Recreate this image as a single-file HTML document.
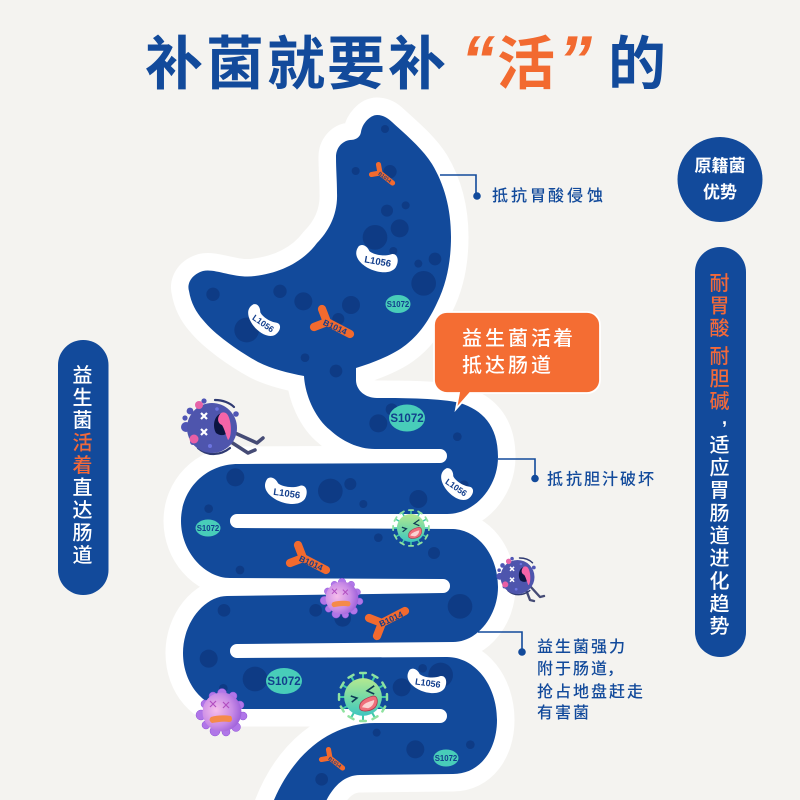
<!DOCTYPE html>
<html lang="zh"><head><meta charset="utf-8"><style>
html,body{margin:0;padding:0;background:#f4f3f0}
svg{display:block}
text{font-family:"Liberation Sans","Noto Sans CJK SC",sans-serif}
.cjk{font-family:"Noto Sans CJK SC",sans-serif}
.lab{font-size:16px;fill:#124a9b;font-weight:500}
.pill{font-size:20px;fill:#fff;font-weight:500;text-anchor:middle}
.sl{font-weight:700;fill:#123e8c;text-anchor:middle}
.bt{font-weight:700;fill:#123e8c;text-anchor:middle}
</style></head><body>
<svg width="800" height="800" viewBox="0 0 800 800" xmlns="http://www.w3.org/2000/svg">
<defs>
<radialGradient id="gp" cx=".35" cy=".45" r=".75"><stop offset="0" stop-color="#f6bdea"/><stop offset=".55" stop-color="#c98be6"/><stop offset="1" stop-color="#8d50d6"/></radialGradient>
<linearGradient id="gg" x1=".5" y1="0" x2=".5" y2="1"><stop offset="0" stop-color="#b5e98f"/><stop offset=".55" stop-color="#70d8a8"/><stop offset="1" stop-color="#3fc6c0"/></linearGradient>
<path id="bean" fill="#fff" d="M-50,-25C-42,-35 -28,-28 -22,-18C-8,-10 18,-12 32,-20C46,-26 55,-8 48,10C38,30 5,30 -15,24C-38,17 -62,0 -50,-25Z"/>
<path id="yy" fill="none" stroke="#f26a2e" stroke-width="8.200" stroke-linecap="round" stroke-linejoin="round" d="M-5,-13L0,0L23,12M-13,5L0,0"/>
<g id="spike"><line x1="0" y1="-17" x2="0" y2="-23" stroke="#3fc9a8" stroke-width="2"/><line x1="-2.800" y1="-23.500" x2="2.800" y2="-23.500" stroke="#8fe2a0" stroke-width="2.400" stroke-linecap="round"/></g>
<g id="green">
<use href="#spike"/><use href="#spike" transform="rotate(30)"/><use href="#spike" transform="rotate(60)"/><use href="#spike" transform="rotate(90)"/><use href="#spike" transform="rotate(120)"/><use href="#spike" transform="rotate(150)"/><use href="#spike" transform="rotate(180)"/><use href="#spike" transform="rotate(210)"/><use href="#spike" transform="rotate(240)"/><use href="#spike" transform="rotate(270)"/><use href="#spike" transform="rotate(300)"/><use href="#spike" transform="rotate(330)"/>
<circle r="18.500" fill="url(#gg)"/>
<path d="M-12,-1L-6,1L-11,5" fill="none" stroke="#0e3a55" stroke-width="1.600"/>
<path d="M11,-11L4,-6L11,-3" fill="none" stroke="#0e3a55" stroke-width="1.600"/>
<path d="M-3,12C-5,5 2,1 10,-1C15,-1 15,6 12,10C8,14 0,15 -3,12Z" fill="#ef6f7b" stroke="#a93a4c" stroke-width=".8"/>
<path d="M-1,10C1,6 5,5 11,3C11,6 9,10 5,11Z" fill="#fbd3d3"/>
</g>
<g id="purple">
<g fill="#b076e8" stroke="#8d50d6" stroke-width=".5"><circle cx="0" cy="-19" r="4.500"/><circle cx="11" cy="-16" r="4"/><circle cx="18" cy="-7" r="4"/><circle cx="21" cy="4" r="4"/><circle cx="14" cy="15" r="4.500"/><circle cx="4" cy="20" r="4"/><circle cx="-7" cy="19" r="5"/><circle cx="-16" cy="13" r="4"/><circle cx="-21" cy="3" r="5"/><circle cx="-17" cy="-8" r="4"/><circle cx="-9" cy="-16" r="4"/></g>
<circle r="19.500" fill="url(#gp)"/>
<path d="M-12,-11l6,6m0,-6l-6,6M1,-10l6,6m0,-6l-6,6" stroke="#b24fc0" stroke-width="1.200" fill="none"/>
<path d="M-11,5C-5,3 3,3 9,4C11,7 10,10 7,10C2,9 -4,10 -10,11C-13,9 -13,7 -11,5Z" fill="#f58a4a"/>
</g>
<g id="bug">
<g fill="#4f55b5"><circle cx="-26" cy="-1" r="5"/><circle cx="-22" cy="-17" r="3.400"/><circle cx="-27" cy="-10" r="2.600"/><circle cx="-8" cy="-27" r="2.600"/><circle cx="24" cy="-14" r="2.800"/><circle cx="-19" cy="14" r="3"/></g>
<path d="M3,-28C11,-28 18,-25 22,-21M-14,20C-5,28 8,28 18,20" fill="none" stroke="#2f3a72" stroke-width="2.200" stroke-linecap="round"/>
<circle r="25" fill="#4e55ad"/>
<circle cx="-13" cy="-23" r="4" fill="#e663a8"/><circle cx="-18" cy="11" r="4.500" fill="#e85fa5"/><circle cx="-2" cy="18" r="2" fill="#6c74e0"/><circle cx="5" cy="-19" r="1.800" fill="#6c74e0"/>
<path d="M-11,-15l6,6m0,-6l-6,6M-11,1l6,6m0,-6l-6,6" stroke="#fff" stroke-width="2.200" fill="none"/>
<path d="M10,-15C2,-13 0,-2 4,5C8,8 13,8 16,4C16,-4 15,-13 10,-15Z" fill="#0b1440"/>
<path d="M9,-15C5,-11 5,-5 10,-3C13,2 14,8 16,12C20,10 20,-8 15,-14C13,-16 11,-16 9,-15Z" fill="#f564a8"/>
</g>
</defs>

<!-- Title -->
<text class="cjk" font-size="58" font-weight="700" fill="#124a9b" y="84" x="145 206 267 327 388">补菌就要补</text>
<text class="cjk" font-size="58" font-weight="700" fill="#f26a30" y="84" x="497">活</text>
<text class="cjk" font-size="58" font-weight="700" fill="#124a9b" y="84" x="608">的</text>
<text font-size="68" font-weight="700" font-style="italic" fill="#f26a30" y="83" x="461">“</text>
<text font-size="68" font-weight="700" font-style="italic" fill="#f26a30" y="83" x="558">”</text>

<!-- Tract -->
<path id="tract" fill="#124a9b" stroke="#fff" stroke-width="35" stroke-linejoin="round" paint-order="stroke"
d="M377,115C370,115 362,124 361,132C360,138 355,140 350,140C342,141 336,148 336,157C336,170 337,180 337,193C338,215 328,232 317,243C303,262 280,273 255,276C235,279 215,268 203,271C190,275 187,285 189,291C191,303 196,312 203,320C215,335 240,352 258,362C272,369 288,373 304,376C305,395 315,418 330,430C342,441 358,449 375,449L440,449A7,7 0 0 1 440,463L238,464C205,464 181,490 181,521C181,552 205,578 230,578L443,579A7,7 0 0 1 443,593L227,596C205,596 183,622 183,653C183,685 205,709 230,709L440,709A7,7 0 0 1 440,723L375,723C330,723 290,755 270,810L322,810C330,790 342,775 360,775L453,774C480,774 497,750 497,720C497,685 475,657 447,657L237,658A7,7 0 0 1 237,644L453,642C478,642 498,615 498,587C498,555 478,530 453,529L237,528A7,7 0 0 1 237,514L447,514C475,514 498,487 498,457C498,425 482,410 460,403C440,398 400,398 377,398C365,398 356,390 356,380L356,368C375,362 392,355 403,347C420,335 430,318 437,303C447,283 451,260 451,237C451,208 444,184 432,164C422,148 405,134 392,122C387,117 382,115 377,115Z"/>

<!-- spots -->
<g fill="#0e3b85" transform="translate(170 90) scale(.33333)">
<circle cx="645" cy="117" r="12"/><circle cx="557" cy="243" r="12"/><circle cx="660" cy="245" r="20"/><circle cx="651" cy="362" r="18"/><circle cx="707" cy="346" r="12"/><circle cx="689" cy="415" r="27"/><circle cx="615" cy="442" r="37"/><circle cx="670" cy="483" r="12"/><circle cx="745" cy="521" r="12"/><circle cx="795" cy="507" r="19"/><circle cx="761" cy="580" r="37"/><circle cx="129" cy="613" r="20"/><circle cx="330" cy="604" r="20"/><circle cx="400" cy="634" r="27"/><circle cx="543" cy="645" r="27"/><circle cx="505" cy="687" r="18"/><circle cx="230" cy="720" r="37"/><circle cx="405" cy="803" r="13"/><circle cx="498" cy="843" r="19"/><circle cx="625" cy="1000" r="27"/><circle cx="665" cy="958" r="18"/><circle cx="862" cy="1040" r="12"/>
</g>
<g fill="#0e3b85" transform="translate(160 430) scale(.33333)">
<circle cx="226" cy="142" r="27"/><circle cx="146" cy="236" r="13"/><circle cx="511" cy="183" r="37"/><circle cx="571" cy="162" r="18"/><circle cx="610" cy="222" r="12"/><circle cx="775" cy="207" r="27"/><circle cx="892" cy="20" r="13"/><circle cx="912" cy="165" r="14"/><circle cx="655" cy="323" r="13"/><circle cx="822" cy="369" r="18"/><circle cx="240" cy="420" r="13"/><circle cx="192" cy="541" r="19"/><circle cx="467" cy="541" r="19"/><circle cx="548" cy="565" r="25"/><circle cx="900" cy="529" r="37"/><circle cx="146" cy="686" r="27"/><circle cx="285" cy="747" r="37"/><circle cx="190" cy="775" r="13"/><circle cx="725" cy="772" r="27"/><circle cx="842" cy="735" r="37"/><circle cx="788" cy="715" r="13"/><circle cx="650" cy="908" r="12"/><circle cx="766" cy="958" r="27"/><circle cx="931" cy="944" r="13"/><circle cx="485" cy="1048" r="19"/>
</g>

<!-- L1056 beans -->
<g transform="translate(377 260) rotate(10)"><use href="#bean" transform="scale(.41)"/><text class="bt" font-size="9.500" y="4.500" x="1">L1056</text></g>
<g transform="translate(263 322) rotate(35)"><use href="#bean" transform="scale(.36)"/><text class="bt" font-size="8.500" y="4" x="1">L1056</text></g>
<g transform="translate(286 492) rotate(8)"><use href="#bean" transform="scale(.41)"/><text class="bt" font-size="9.500" y="4.500" x="1">L1056</text></g>
<g transform="translate(456 486) rotate(35)"><use href="#bean" transform="scale(.36)"/><text class="bt" font-size="8.500" y="4" x="1">L1056</text></g>
<g transform="translate(427 682) rotate(8)"><use href="#bean" transform="scale(.38)"/><text class="bt" font-size="9" y="4" x="1">L1056</text></g>

<!-- B1014 -->
<g transform="translate(327 322)"><use href="#yy"/><text class="bt" font-size="8.500" transform="translate(8 5) rotate(24)" y="3">B1014</text></g>
<g transform="translate(303 558)"><use href="#yy"/><text class="bt" font-size="8.500" transform="translate(8 5) rotate(24)" y="3">B1014</text></g>
<g transform="translate(380 173)"><use href="#yy" transform="rotate(11) scale(.62)"/><text class="bt" font-size="5" transform="translate(5 4) rotate(36)" y="2">B1014</text></g>
<g transform="translate(330 758)"><use href="#yy" transform="rotate(11) scale(.62)"/><text class="bt" font-size="5" transform="translate(5 4) rotate(36)" y="2">B1014</text></g>
<g transform="translate(382 623)"><use href="#yy" transform="scale(1 -1)"/><text class="bt" font-size="8.500" transform="translate(9 -4) rotate(-25)" y="3">B1014</text></g>

<!-- S1072 -->
<g fill="#48cdb9"><ellipse cx="398" cy="304" rx="12.500" ry="9"/><ellipse cx="407" cy="418" rx="18" ry="13.500"/><ellipse cx="208" cy="528" rx="12.500" ry="8.500"/><ellipse cx="284" cy="681" rx="18" ry="13"/><ellipse cx="446" cy="758" rx="12.500" ry="8.500"/></g>
<text class="sl" font-size="7.800" x="398" y="307">S1072</text>
<text class="sl" font-size="11.500" x="407" y="422">S1072</text>
<text class="sl" font-size="7.800" x="208" y="531">S1072</text>
<text class="sl" font-size="11.500" x="284" y="685">S1072</text>
<text class="sl" font-size="7.800" x="446" y="761">S1072</text>

<!-- connectors -->
<g fill="none" stroke="#124a9b" stroke-width="1.600">
<path d="M440,175H476V196"/><path d="M498,459H535V478"/><path d="M478,632H522V652"/>
</g>
<g fill="#124a9b"><circle cx="477" cy="196" r="3.800"/><circle cx="535" cy="478.500" r="3.800"/><circle cx="522" cy="652" r="3.800"/></g>
<text class="lab" y="201" x="492 511 530 548 567 587">抵抗胃酸侵蚀</text>
<text class="lab" y="484.500" x="547 566 584 602 620 638">抵抗胆汁破坏</text>
<text class="lab" y="652" x="537 555 573 591 609">益生菌强力</text>
<text class="lab" y="674" x="537 555 573 591 607">附于肠道，</text>
<text class="lab" y="697" x="537 555 573 591 609 627">抢占地盘赶走</text>
<text class="lab" y="718" x="537 555 573">有害菌</text>

<!-- bubble -->
<path d="M447,312H587A13,13 0 0 1 600,325V380A13,13 0 0 1 587,393H470L456,409L459,393H447A13,13 0 0 1 434,380V325A13,13 0 0 1 447,312Z" fill="#f46d33" stroke="#fff" stroke-width="1.800"/>
<text font-size="20" font-weight="500" fill="#fff" y="345" x="462 485 508 531 553">益生菌活着</text>
<text font-size="20" font-weight="500" fill="#fff" y="372" x="462 485 508 531">抵达肠道</text>

<!-- left pill -->
<rect x="58" y="340" width="50.500" height="255" rx="25" fill="#124a9b"/>
<text class="pill" x="82.500" y="382">益</text><text class="pill" x="82.500" y="404.500">生</text><text class="pill" x="82.500" y="427">菌</text>
<text class="pill" x="82.500" y="449.500" style="fill:#f2693a">活</text><text class="pill" x="82.500" y="472" style="fill:#f2693a">着</text>
<text class="pill" x="82.500" y="494.500">直</text><text class="pill" x="82.500" y="517">达</text><text class="pill" x="82.500" y="539.500">肠</text><text class="pill" x="82.500" y="562">道</text>

<!-- circle -->
<circle cx="720" cy="179.500" r="42.500" fill="#124a9b"/>
<text font-size="17" font-weight="700" fill="#fff" text-anchor="middle" x="720" y="171.500">原籍菌</text>
<text font-size="17" font-weight="700" fill="#fff" text-anchor="middle" x="720" y="198">优势</text>

<!-- right pill -->
<rect x="695" y="247" width="51" height="410" rx="25" fill="#124a9b"/>
<text class="pill" style="fill:#f2693a" x="719.500" y="290">耐</text><text class="pill" style="fill:#f2693a" x="719.500" y="312.500">胃</text><text class="pill" style="fill:#f2693a" x="719.500" y="335">酸</text>
<text class="pill" style="fill:#f2693a" x="719.500" y="363">耐</text><text class="pill" style="fill:#f2693a" x="719.500" y="385.500">胆</text><text class="pill" style="fill:#f2693a" x="719.500" y="408">碱</text>
<text font-size="18" font-weight="700" fill="#fff" x="722" y="424">,</text>
<text class="pill" x="719.500" y="452">适</text><text class="pill" x="719.500" y="474.500">应</text><text class="pill" x="719.500" y="497">胃</text><text class="pill" x="719.500" y="520">肠</text><text class="pill" x="719.500" y="542.500">道</text><text class="pill" x="719.500" y="565">进</text><text class="pill" x="719.500" y="588">化</text><text class="pill" x="719.500" y="610.500">趋</text><text class="pill" x="719.500" y="633">势</text>

<!-- pathogens -->
<path d="M235,433L257,443L263,438M231,442L248,453L255,450" fill="none" stroke="#454b75" stroke-width="3.500" stroke-linecap="round" stroke-linejoin="round"/>
<use href="#bug" transform="translate(212 428)"/>
<path d="M525,587L530,600L534,601M530,586L540,597L544,596" fill="none" stroke="#454b75" stroke-width="2.400" stroke-linecap="round" stroke-linejoin="round"/>
<use href="#bug" transform="translate(517.500 577) scale(.68)"/>
<use href="#green" transform="translate(411 528) scale(.76)"/>
<use href="#green" transform="translate(363 697) scale(1.020)"/>
<use href="#purple" transform="translate(342 598) scale(.84)"/>
<use href="#purple" transform="translate(222 712)"/>
</svg>
</body></html>
